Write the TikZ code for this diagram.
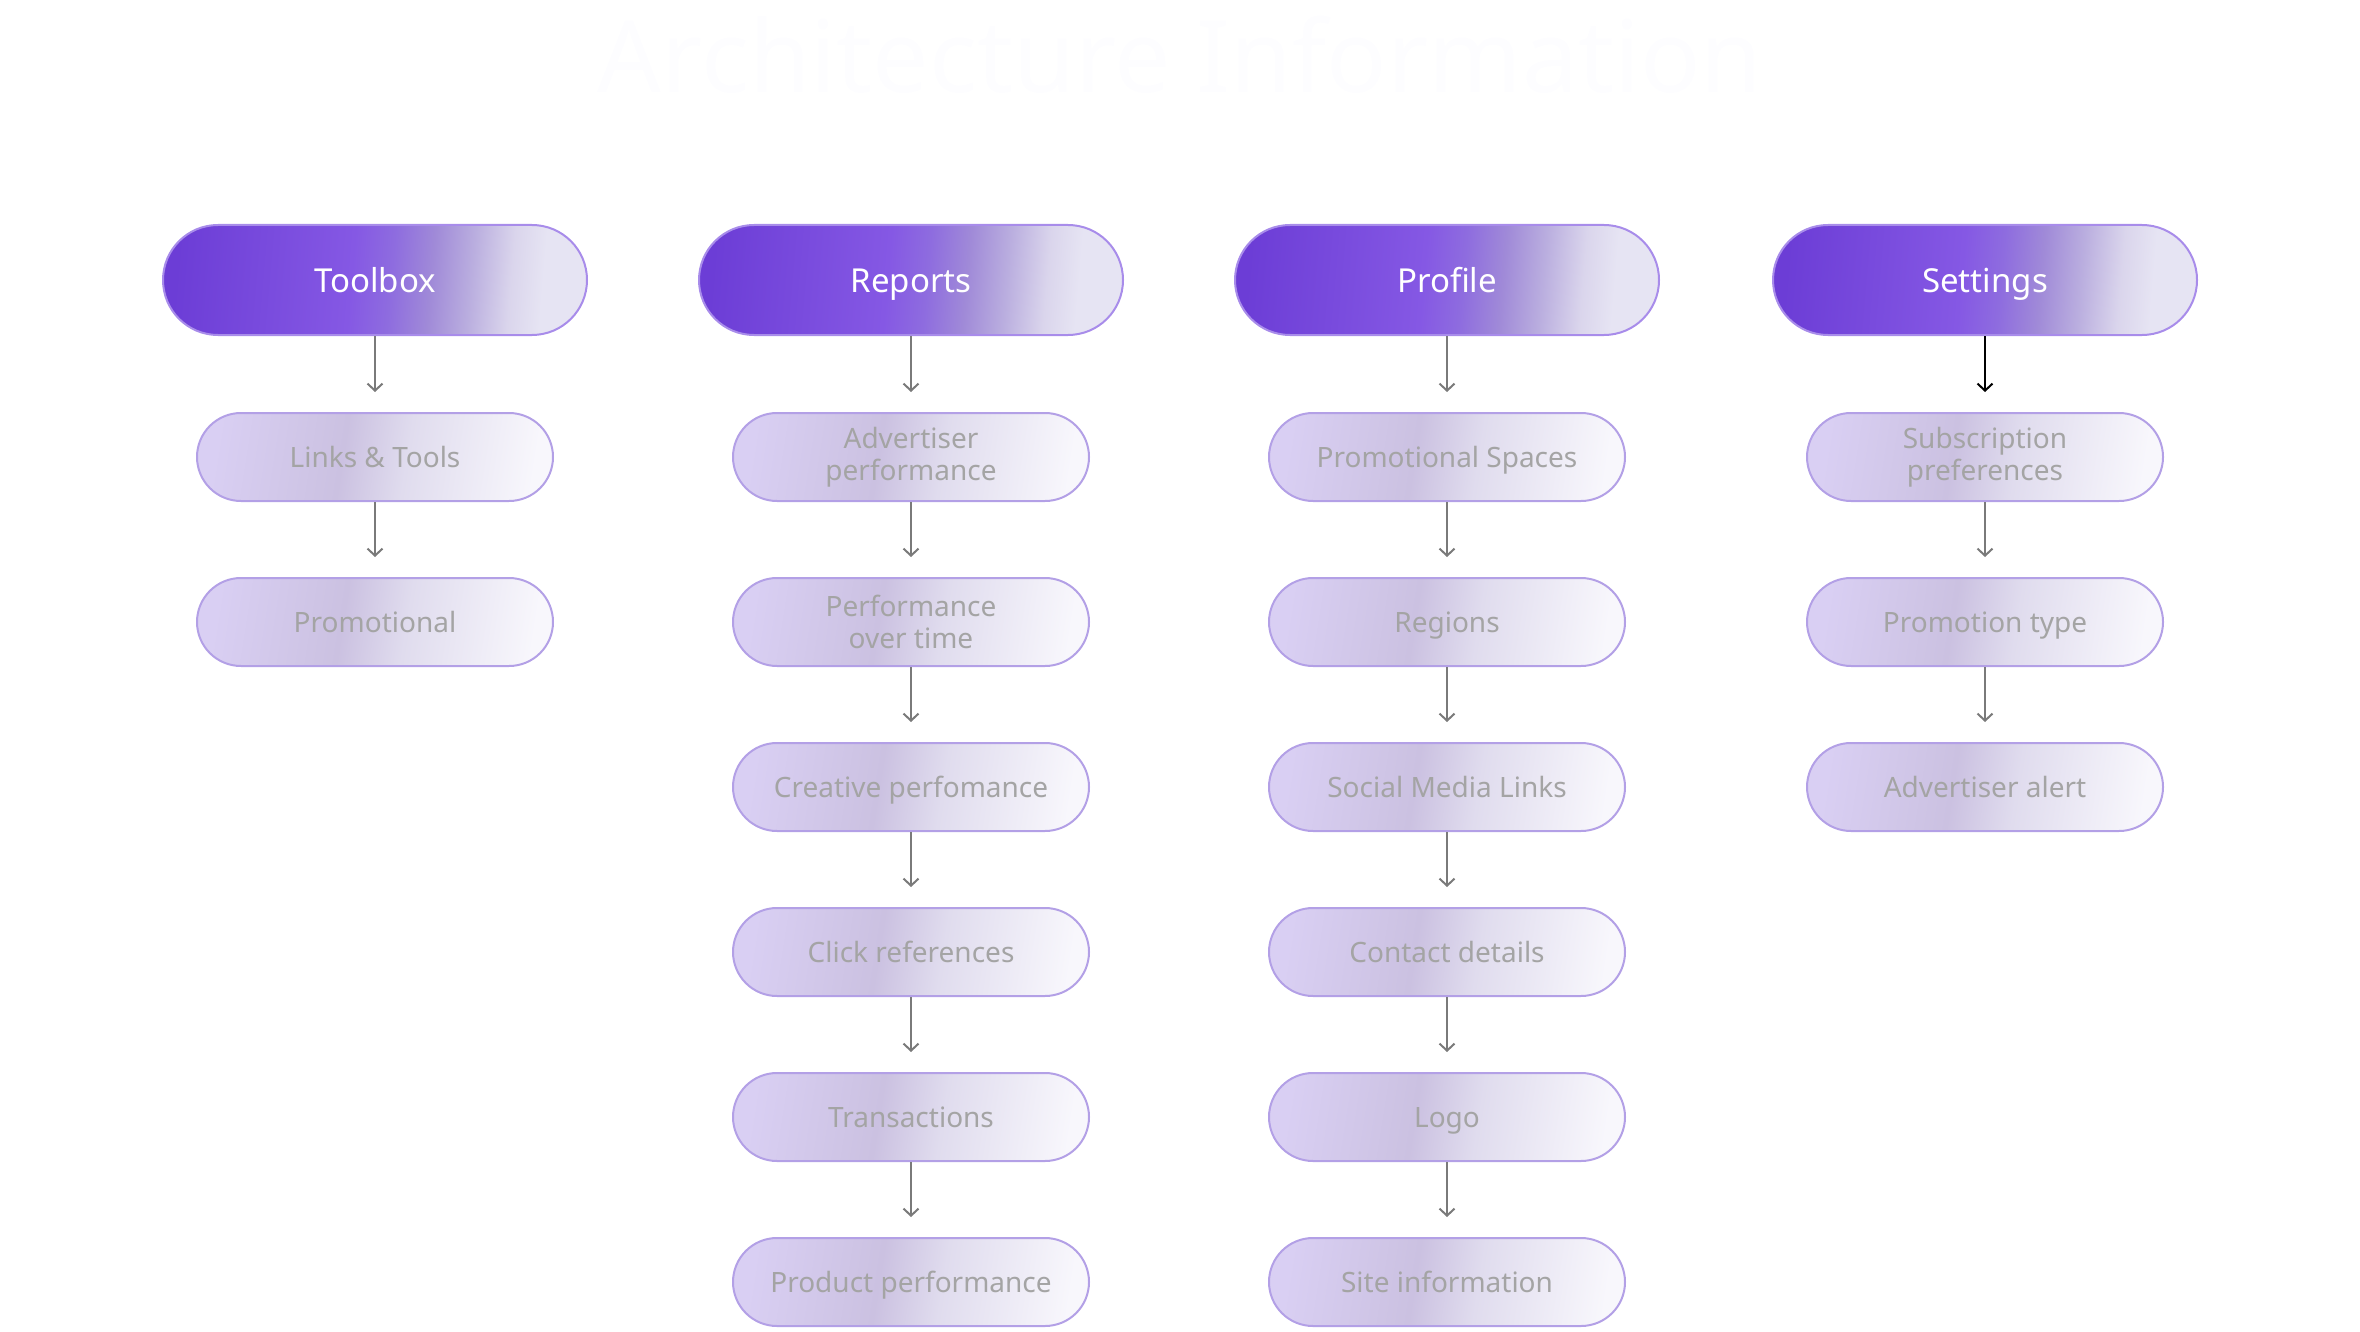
\documentclass[tikz,border=0pt]{standalone}
\usepackage{fontspec}
\setmainfont{Noto Sans}
\usetikzlibrary{arrows.meta}

% colours
\definecolor{hdA}{HTML}{6C3DD6}
\definecolor{hdB}{HTML}{8558E4}
\definecolor{hdC}{HTML}{8E6CDF}
\definecolor{hdD}{HTML}{A08AD8}
\definecolor{hdE}{HTML}{BAAEDF}
\definecolor{hdF}{HTML}{DAD5EC}
\definecolor{hdG}{HTML}{E6E4F3}
\definecolor{hdLine}{HTML}{A88CEA}
\definecolor{itA}{HTML}{D9CFF3}
\definecolor{itB}{HTML}{CBC1E1}
\definecolor{itC}{HTML}{E0DCEE}
\definecolor{itD}{HTML}{F8F7FC}
\definecolor{itLine}{HTML}{B3A0E6}
\definecolor{itText}{HTML}{A4A4A4}
\definecolor{lnk}{HTML}{7A7A7A}
\definecolor{ttl}{HTML}{FDFDFF}

\pgfdeclarehorizontalshading{headshade}{100bp}{color(0bp)=(hdA); color(25bp)=(hdA);
  color(47bp)=(hdB); color(52bp)=(hdC); color(57bp)=(hdD); color(62bp)=(hdE);
  color(67bp)=(hdF); color(71bp)=(hdG); color(100bp)=(hdG)}
\pgfdeclarehorizontalshading{itemshade}{100bp}{color(0bp)=(itA); color(25bp)=(itA);
  color(45bp)=(itB); color(55bp)=(itC); color(75bp)=(itD); color(100bp)=(itD)}

\tikzset{
  head/.style={rectangle, rounded corners=55pt, minimum width=424pt, minimum height=110pt,
    inner sep=0pt, shading=headshade, shading angle=-5, draw=hdLine, line width=2pt,
    text=white, text height=24pt, text depth=0pt, font=\fontsize{33}{40}\selectfont},
  pill/.style={rectangle, rounded corners=44pt, minimum width=356pt, minimum height=88pt,
    inner sep=0pt, shading=itemshade, shading angle=-9, draw=itLine, line width=2pt,
    text=itText, align=center, font=\fontsize{28}{31.5}\selectfont},
  item/.style={pill, text height=20pt, text depth=0pt},
  link/.style={draw=lnk, line width=2pt, -{Straight Barb[length=7pt,width=15pt]}, shorten >=20pt}
}

\begin{document}
\begin{tikzpicture}[x=1pt, y=-1pt]

    \useasboundingbox (0,0) rectangle (2360,1332);

    % Title
    \node[anchor=base, text=ttl, font=\fontsize{100}{110}\selectfont] (title) at (1180,93) {Architecture Information};

    % Column headers
    \node[head] (tool) at (375,280) {Toolbox};
    \node[head] (rep) at (911,280) {Reports};
    \node[head] (prof) at (1447,280) {Profile};
    \node[head] (set) at (1985,280) {Settings};

    % Toolbox
    \node[item] (tool1) at (375,457) {Links \& Tools};
    \node[item] (tool2) at (375,622) {Promotional};

    % Reports
    \node[pill] (rep1) at (911,457) {Advertiser\\performance};
    \node[pill] (rep2) at (911,622) {Performance\\over time};
    \node[item] (rep3) at (911,787) {Creative perfomance};
    \node[item] (rep4) at (911,952) {Click references};
    \node[item] (rep5) at (911,1117) {Transactions};
    \node[item] (rep6) at (911,1282) {Product performance};

    % Profile
    \node[item] (prof1) at (1447,457) {Promotional Spaces};
    \node[item] (prof2) at (1447,622) {Regions};
    \node[item] (prof3) at (1447,787) {Social Media Links};
    \node[item] (prof4) at (1447,952) {Contact details};
    \node[item] (prof5) at (1447,1117) {Logo};
    \node[item] (prof6) at (1447,1282) {Site information};

    % Settings
    \node[pill] (set1) at (1985,457) {Subscription\\preferences};
    \node[item] (set2) at (1985,622) {Promotion type};
    \node[item] (set3) at (1985,787) {Advertiser alert};

    % Arrows
    \foreach \a/\b in {tool/tool1, tool1/tool2,
        rep/rep1, rep1/rep2, rep2/rep3, rep3/rep4, rep4/rep5, rep5/rep6,
        prof/prof1, prof1/prof2, prof2/prof3, prof3/prof4, prof4/prof5, prof5/prof6,
        set1/set2, set2/set3}
      \draw[link] (\a) -- (\b);

    \draw[link, draw=black] (set) -- (set1);

\end{tikzpicture}
\end{document}
